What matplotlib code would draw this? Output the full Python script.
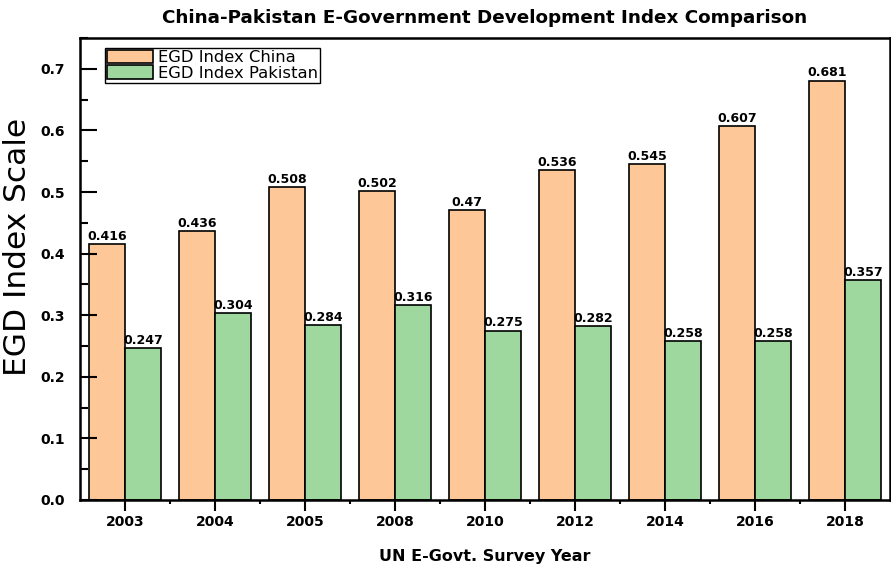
import numpy as np
import matplotlib
matplotlib.use('Agg')
import matplotlib.pyplot as plt
from matplotlib.ticker import MultipleLocator, FixedLocator

years = ['2003', '2004', '2005', '2008', '2010', '2012', '2014', '2016', '2018']
china = [0.416, 0.436, 0.508, 0.502, 0.47, 0.536, 0.545, 0.607, 0.681]
pakistan = [0.247, 0.304, 0.284, 0.316, 0.275, 0.282, 0.258, 0.258, 0.357]
china_labels = ['0.416', '0.436', '0.508', '0.502', '0.47', '0.536', '0.545', '0.607', '0.681']
pakistan_labels = ['0.247', '0.304', '0.284', '0.316', '0.275', '0.282', '0.258', '0.258', '0.357']

# wide sans face, the reference text is drawn quite wide
plt.rcParams['font.family'] = ['DejaVu Sans']

fig = plt.figure(figsize=(8.91, 5.64), dpi=100)
fig.set_facecolor('white')
ax = fig.add_axes([0.0898, 0.1135, 0.9090, 0.8191])

x = np.arange(len(years))
w = 0.4
b1 = ax.bar(x - w / 2, china, w, color='#fdc797', edgecolor='black', linewidth=1.2, label='EGD Index China')
b2 = ax.bar(x + w / 2, pakistan, w, color='#9fd89e', edgecolor='black', linewidth=1.2, label='EGD Index Pakistan')

for bars, labels in ((b1, china_labels), (b2, pakistan_labels)):
  for bar, lab in zip(bars, labels):
    ax.text(bar.get_x() + bar.get_width() / 2, bar.get_height() + 0.002, lab,
            ha='center', va='bottom', fontsize=9, fontweight='bold')

ax.set_xlim(-0.5, len(years) - 0.5)
ax.set_xticks(x)
ax.set_xticklabels(years, fontsize=10, fontweight='bold')
ax.xaxis.set_minor_locator(FixedLocator(x[:-1] + 0.5))
yt = np.arange(0, 0.71, 0.1)
ax.set_yticks(yt)
ax.set_yticklabels([f'{v:.1f}' for v in yt], fontsize=10, fontweight='bold')
ax.yaxis.set_minor_locator(MultipleLocator(0.05))
ax.set_ylim(0, 0.75)

ax.tick_params(axis='y', which='major', direction='in', length=12, width=1.5, pad=11)
ax.tick_params(axis='y', which='minor', direction='in', length=6, width=1.5)
ax.tick_params(axis='x', which='major', direction='out', length=8, width=1.5, pad=3)
ax.tick_params(axis='x', which='minor', direction='out', length=3, width=1.5)
for s in ax.spines.values():
  s.set_linewidth(1.8)

ax.set_ylabel('EGD Index Scale', fontsize=22.5)
ax.yaxis.set_label_coords(-0.0593, 0.5476)
ax.set_xlabel('UN E-Govt. Survey Year', fontsize=11.5, fontweight='bold')
ax.xaxis.set_label_coords(0.5, -0.106)
ax.set_title('China-Pakistan E-Government Development Index Comparison', fontsize=13.2, fontweight='bold', pad=11)

leg = ax.legend(loc='upper left', bbox_to_anchor=(0.031, 0.979), fontsize=11.8, fancybox=False,
                edgecolor='black', framealpha=1, handlelength=2.8, handleheight=0.9,
                borderpad=0.12, labelspacing=0.0, handletextpad=0.3, borderaxespad=0)
leg.get_frame().set_linewidth(1.0)

plt.savefig('out.png', dpi=100)
